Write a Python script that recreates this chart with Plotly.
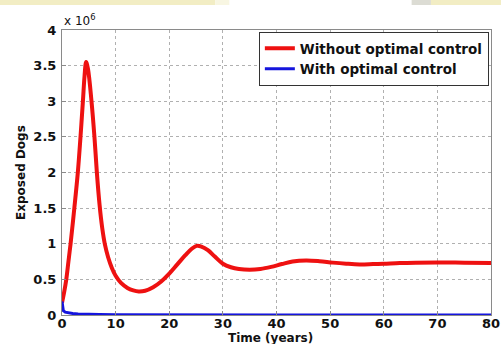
import plotly.graph_objects as go

# Time (years) and exposed dogs (x 10^6)
t_without = [0, 0.4, 0.8, 1.2, 1.6, 2.3, 2.95, 3.45, 3.9, 4.2, 4.5, 4.85, 5.5, 6.05, 6.5,
             7.0, 7.5, 8.0, 8.6, 9.3, 10.0, 11.0, 12.2, 13.3, 14.3, 15.5, 17.0, 18.5,
             20.0, 21.5, 23.0, 24.2, 25.1, 26.0, 27.2, 28.5, 30.0, 31.5, 33.0, 35.0,
             37.0, 39.0, 41.0, 43.0, 45.5, 48.0, 50.5, 53.0, 55.5, 58.0, 60.0, 63.0,
             66.0, 70.0, 75.0, 80.0]
e_without = [0.17, 0.32, 0.5, 0.75, 1.0, 1.5, 2.0, 2.5, 3.0, 3.35, 3.55, 3.45, 3.0, 2.5, 2.0,
             1.55, 1.22, 0.99, 0.81, 0.66, 0.55, 0.45, 0.38, 0.345, 0.33, 0.34, 0.39, 0.47,
             0.58, 0.71, 0.84, 0.93, 0.97, 0.96, 0.91, 0.82, 0.72, 0.67, 0.645, 0.635,
             0.645, 0.675, 0.715, 0.75, 0.765, 0.755, 0.735, 0.72, 0.71, 0.715, 0.72, 0.73,
             0.735, 0.738, 0.735, 0.73]

t_with = [0, 0.1, 0.25, 0.6, 1.2, 2.0, 3.0, 4.5, 7.0, 10.0, 15.0, 25.0, 40.0, 80.0]
e_with = [0.19, 0.12, 0.06, 0.04, 0.03, 0.022, 0.015, 0.01, 0.006, 0.004, 0.002, 0.001, 0.0005, 0.0]

x_ticks = [0, 10, 20, 30, 40, 50, 60, 70, 80]
y_ticks = [0, 0.5, 1, 1.5, 2, 2.5, 3, 3.5, 4]
y_tick_text = ["0", "0.5", "1", "1.5", "2", "2.5", "3", "3.5", "4"]

FONT = "DejaVu Sans"

fig = go.Figure()
fig.add_trace(go.Scatter(x=t_without, y=e_without, mode="lines",
                         name="Without optimal control",
                         line=dict(color="#ee1111", width=4, shape="spline", smoothing=1.0)))
fig.add_trace(go.Scatter(x=t_with, y=e_with, mode="lines",
                         name="With optimal control",
                         line=dict(color="#1515dd", width=3)))

axis_common = dict(showline=True, linecolor="#8a8a8a", linewidth=1, mirror=True,
                   showgrid=True, gridcolor="#b0b0b0", griddash="dot", gridwidth=1,
                   ticks="inside", ticklen=4, tickcolor="#8a8a8a", zeroline=False,
                   automargin=False,
                   tickfont=dict(family=FONT, size=13, color="#111111", weight="bold"))

fig.update_xaxes(range=[0, 80], tickvals=x_ticks, ticklabelstandoff=-4, **axis_common)
fig.update_yaxes(range=[0, 4], tickvals=y_ticks, ticktext=y_tick_text, ticklabelstandoff=2,
                 **axis_common)

shapes = [
    dict(type="rect", xref="paper", yref="paper", x0=-0.145, x1=0.357, y0=1.0877, y1=1.106,
         fillcolor="#f2edc4", line=dict(width=0), layer="below"),
    dict(type="rect", xref="paper", yref="paper", x0=0.357, x1=0.39, y0=1.0877, y1=1.106,
         fillcolor="#f8f6e2", line=dict(width=0), layer="below"),
    dict(type="rect", xref="paper", yref="paper", x0=0.815, x1=0.86, y0=1.0877, y1=1.106,
         fillcolor="#dcdcd4", line=dict(width=0), layer="below"),
    dict(type="rect", xref="paper", yref="paper", x0=0.86, x1=1.03, y0=1.0877, y1=1.106,
         fillcolor="#f2edc4", line=dict(width=0), layer="below"),
]

title_font = dict(family=FONT, size=12, color="#111111", weight="bold")

fig.update_layout(
    width=501, height=344,
    margin=dict(l=62, r=10, t=30, b=29),
    paper_bgcolor="white", plot_bgcolor="white",
    font=dict(family=FONT, color="#111111"),
    showlegend=True,
    legend=dict(x=0.995, y=0.993, xanchor="right", yanchor="top",
                bgcolor="white", bordercolor="#333333", borderwidth=1,
                font=dict(family=FONT, size=13.5, color="#111111", weight="bold"),
                itemwidth=30, tracegroupgap=0),
    shapes=shapes,
    annotations=[
        dict(text="x 10<sup>6</sup>", xref="paper", yref="paper",
             x=0.0, y=1.0, xanchor="left", yanchor="bottom", showarrow=False,
             font=dict(family=FONT, size=12, color="#111111")),
        dict(text="Time (years)", xref="paper", yref="paper",
             x=0.485, y=-0.079, xanchor="center", yanchor="middle", showarrow=False,
             font=title_font),
        dict(text="Exposed Dogs", xref="paper", yref="paper", textangle=-90,
             x=-0.0956, y=0.502, xanchor="center", yanchor="middle", showarrow=False,
             font=title_font),
    ],
)

fig.write_html("out.html")
